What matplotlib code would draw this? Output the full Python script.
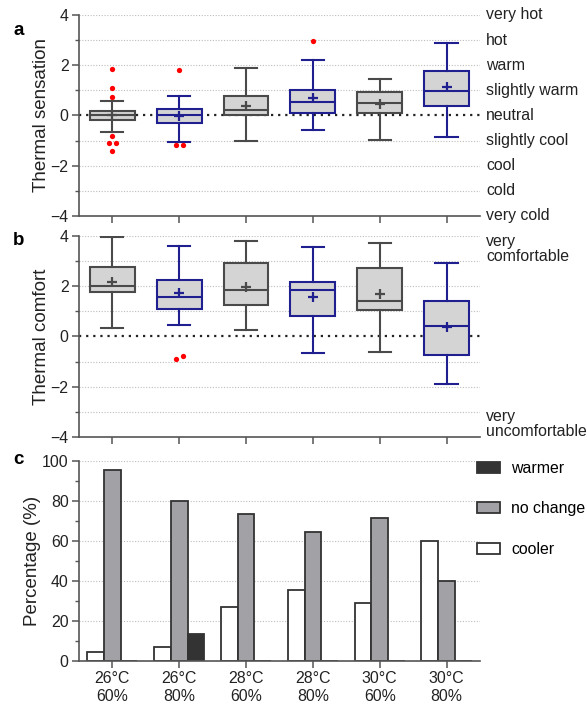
import matplotlib
matplotlib.use("Agg")
import matplotlib.pyplot as plt
from matplotlib.patches import Patch
from matplotlib.ticker import MultipleLocator
import matplotlib.transforms as mtransforms

plt.rcParams['font.family'] = ['Liberation Sans', 'DejaVu Sans']

# ---- data ----
conditions = ["26°C\n60%", "26°C\n80%", "28°C\n60%", "28°C\n80%", "30°C\n60%", "30°C\n80%"]

# Thermal sensation box statistics
sens_q1 = [-0.17, -0.30, 0.03, 0.08, 0.09, 0.37]
sens_med = [0.00, 0.00, 0.23, 0.53, 0.49, 0.97]
sens_q3 = [0.16, 0.24, 0.78, 1.02, 0.94, 1.79]
sens_lo = [-0.64, -1.06, -1.00, -0.56, -0.97, -0.87]
sens_hi = [0.56, 0.78, 1.91, 2.21, 1.47, 2.89]
sens_mean = [0.00, -0.03, 0.38, 0.68, 0.46, 1.13]
sens_out = [[1.84, 1.10, 0.72, -0.83, -1.11, -1.11, -1.43],
            [1.81, -1.17, -1.17],
            [], [2.95], [], []]
sens_labels = ["very hot", "hot", "warm", "slightly warm", "neutral",
               "slightly cool", "cool", "cold", "very cold"]

# Thermal comfort box statistics
comf_q1 = [1.79, 1.10, 1.25, 0.83, 1.05, -0.74]
comf_med = [2.01, 1.59, 1.84, 1.83, 1.40, 0.41]
comf_q3 = [2.75, 2.26, 2.94, 2.16, 2.72, 1.42]
comf_lo = [0.32, 0.45, 0.24, -0.66, -0.60, -1.89]
comf_hi = [3.97, 3.62, 3.81, 3.55, 3.74, 2.94]
comf_mean = [2.15, 1.72, 1.95, 1.59, 1.71, 0.37]
comf_out = [[], [-0.91, -0.78], [], [], [], []]

# Thermal preference (%)
pref_cooler = [4.5, 6.7, 26.7, 35.5, 28.8, 60.0]
pref_nochange = [95.5, 80.0, 73.3, 64.5, 71.2, 40.0]
pref_warmer = [0.0, 13.3, 0.0, 0.0, 0.0, 0.0]

# ---- style ----
GRAY_EDGE = "#4a4a4a"
BLUE_EDGE = "#1f1f8f"
BOX_FACE = "#d4d4d4"
SPINE = "#555555"
TXT = "#222222"
FS = 11.4
edge_colors = [GRAY_EDGE, BLUE_EDGE] * 3

fig = plt.figure(figsize=(5.87, 7.04), dpi=100)
L, W = 0.1346, 0.683
ax_a = fig.add_axes([L, 0.6932, W, 0.2855])
ax_b = fig.add_axes([L, 0.3793, W, 0.2855])
ax_c = fig.add_axes([L, 0.0615, W, 0.2841])

xs = list(range(len(conditions)))


def style_axis(ax):
    for s in ("top", "right"):
        ax.spines[s].set_visible(False)
    for s in ("left", "bottom"):
        ax.spines[s].set_color(SPINE)
        ax.spines[s].set_linewidth(1.2)
    ax.tick_params(axis="both", which="major", direction="out", length=5,
                   width=1.1, color=SPINE, labelsize=FS, labelcolor=TXT,
                   pad=2.5)
    ax.tick_params(axis="y", which="minor", direction="out", length=3,
                   width=1.0, color=SPINE)
    ax.set_xlim(-0.5, 5.5)


def box_panel(ax, q1, med, q3, lo, hi, mean, outl, ylabel):
    style_axis(ax)
    ax.set_ylim(-4, 4)
    ax.yaxis.set_major_locator(MultipleLocator(2))
    ax.yaxis.set_minor_locator(MultipleLocator(1))
    for y in range(-3, 5):
        if y != 0:
            ax.axhline(y, color="#bdbdbd", lw=0.8, ls=(0, (1, 1.5)), zorder=0)
    ax.axhline(0, color=TXT, lw=1.6, ls=(0, (1, 2.2)), zorder=1)
    for i in xs:
        st = [dict(q1=q1[i], med=med[i], q3=q3[i], whislo=lo[i], whishi=hi[i],
                   mean=mean[i], fliers=[])]
        c = edge_colors[i]
        ax.bxp(st, positions=[i], widths=0.67, patch_artist=True,
               showmeans=True, showfliers=False, manage_ticks=False,
               boxprops=dict(facecolor=BOX_FACE, edgecolor=c, lw=1.5),
               medianprops=dict(color=c, lw=1.5),
               whiskerprops=dict(color=c, lw=1.5),
               capprops=dict(color=c, lw=1.5), capwidths=0.33,
               meanprops=dict(marker="+", markeredgecolor=c,
                              markerfacecolor=c, markersize=7,
                              markeredgewidth=1.6))
        # outliers; coincident values are dodged sideways
        vals = outl[i]
        for j, v in enumerate(vals):
            near = [k for k, w in enumerate(vals) if abs(w - v) < 0.2]
            if len(near) > 1:
                dx = -0.05 if near.index(j) == 0 else 0.05
            else:
                dx = 0.0
            ax.plot(i + dx, v, "o", color="#ff0000", ms=3.8, mec="none",
                    zorder=5)
    ax.set_xticks(xs)
    ax.set_xticklabels([])
    ax.set_ylabel(ylabel, fontsize=13.5, color=TXT, labelpad=0.5)


box_panel(ax_a, sens_q1, sens_med, sens_q3, sens_lo, sens_hi, sens_mean,
          sens_out, "Thermal sensation")
box_panel(ax_b, comf_q1, comf_med, comf_q3, comf_lo, comf_hi, comf_mean,
          comf_out, "Thermal comfort")

tr_a = mtransforms.blended_transform_factory(ax_a.transAxes, ax_a.transData)
for k, lab in enumerate(sens_labels):
    ax_a.text(1.015, 4 - k, lab, transform=tr_a, ha="left", va="center",
              fontsize=FS, color=TXT)

tr_b = mtransforms.blended_transform_factory(ax_b.transAxes, ax_b.transData)
ax_b.text(1.015, 3.5, "very\ncomfortable", transform=tr_b, ha="left",
          va="center", fontsize=FS, color=TXT, linespacing=1.0)
ax_b.text(1.015, -3.5, "very\nuncomfortable", transform=tr_b, ha="left",
          va="center", fontsize=FS, color=TXT, linespacing=1.0)

# ---- panel c: bars ----
style_axis(ax_c)
ax_c.set_ylim(0, 100)
ax_c.yaxis.set_major_locator(MultipleLocator(20))
ax_c.yaxis.set_minor_locator(MultipleLocator(10))
for y in range(20, 101, 20):
    ax_c.axhline(y, color="#bdbdbd", lw=0.8, ls=(0, (1, 1.5)), zorder=0)
bw = 0.25
bar_kw = dict(width=bw, edgecolor="#333333", linewidth=1.3, zorder=2)
ax_c.bar([x - bw for x in xs], pref_cooler, color="white", **bar_kw)
ax_c.bar(xs, pref_nochange, color="#a2a2a6", **bar_kw)
ax_c.bar([x + bw for x in xs], pref_warmer, color="#333333", **bar_kw)
ax_c.set_xticks(xs)
ax_c.set_xticklabels(conditions, fontsize=FS, linespacing=1.2)
ax_c.set_ylabel("Percentage (%)", fontsize=13.5, color=TXT, labelpad=0.5)

handles = [Patch(facecolor="#333333", edgecolor="#333333", lw=1.3),
           Patch(facecolor="#a2a2a6", edgecolor="#333333", lw=1.3),
           Patch(facecolor="white", edgecolor="#333333", lw=1.3)]
fig.legend(handles, ["warmer", "no change", "cooler"], loc="upper left",
           bbox_to_anchor=(0.812, 0.345), frameon=False, fontsize=FS,
           handlelength=1.45, handleheight=0.7, handletextpad=0.75,
           labelspacing=1.6, borderpad=0, borderaxespad=0)

# panel letters (baseline positions in figure pixels)
for lab, ypix in (("a", 35), ("b", 245), ("c", 464)):
    fig.text(13 / 587, 1 - ypix / 704, lab, fontsize=13.5,
             fontweight="bold", ha="left", va="baseline")

fig.savefig("out.png", dpi=100)
